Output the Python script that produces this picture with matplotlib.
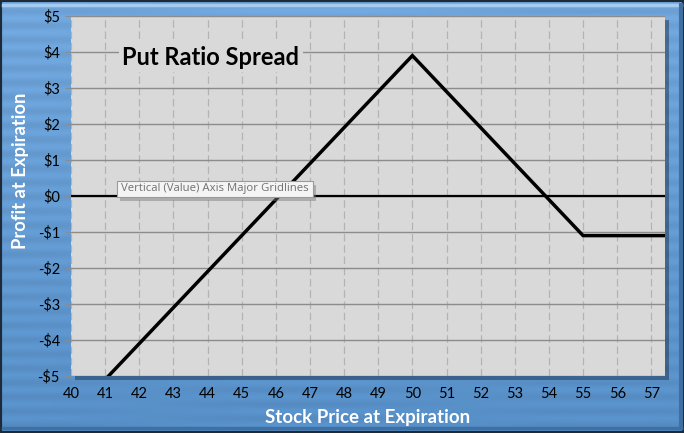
import numpy as np
import matplotlib
matplotlib.use("Agg")
import matplotlib.pyplot as plt
from matplotlib.patches import Rectangle

# payoff of the put ratio spread at expiration
prices = [40, 50, 55, 57.4]
profit = [-6.1, 3.9, -1.1, -1.1]
xticks = list(range(40, 58))
yticks = list(range(-5, 6))
ylabels = [("-$%d" % -v) if v < 0 else "$%d" % v for v in yticks]

plt.rcParams['font.family'] = ['Lato', 'DejaVu Sans']

W, H = 684, 433
fig = plt.figure(figsize=(W / 100, H / 100), dpi=100)

# blue brushed background
bg = fig.add_axes([0, 0, 1, 1], zorder=-10)
bg.set_axis_off()
rows = np.linspace(0, 1, H)[:, None]
cols = np.linspace(0, 1, W)[None, :]
top = np.array([0.44, 0.65, 0.86])
bot = np.array([0.34, 0.56, 0.78])
grad = top[None, None, :] * (1 - rows[..., None]) + bot[None, None, :] * rows[..., None]
grad = grad * (1 + 0.035 * np.sin(rows[..., None] * 190) * np.cos(cols[..., None] * 7))
grad = np.clip(grad + 0 * cols[..., None], 0, 1)
bg.imshow(grad, extent=[0, 1, 0, 1], aspect='auto', origin='upper')
bg.set_xlim(0, 1)
bg.set_ylim(0, 1)
# bevel / frame
bg.plot([0.004, 0.996], [0.989, 0.989], color='#a5ccf0', lw=2.5, transform=bg.transAxes)
bg.plot([0.995, 0.995], [0.012, 0.988], color='#3f70a3', lw=3, transform=bg.transAxes)
bg.plot([0.004, 0.996], [0.011, 0.011], color='#3f70a3', lw=2.5, transform=bg.transAxes)
bg.add_patch(Rectangle((0, 0), 1, 1, fill=False, ec='#1d2a38', lw=3, transform=bg.transAxes))

L, R, B, T = 71 / W, 665 / W, (H - 376) / H, (H - 16) / H
# drop shadow of plot area
bg.add_patch(Rectangle((L + 4 / W, B - 4 / H), R - L, T - B, fc='#1e3550', alpha=0.5,
                       ec='none', transform=bg.transAxes))

ax = fig.add_axes([L, B, R - L, T - B])
ax.set_facecolor('#d9d9d9')
ax.set_xlim(40, 57.4)
ax.set_ylim(-5, 5)
ax.set_xticks(xticks)
ax.set_yticks(yticks)
ax.set_yticklabels(ylabels)
for s in ax.spines.values():
    s.set_visible(False)
ax.tick_params(axis='x', length=0, pad=8, labelsize=10.5, colors='black')
ax.tick_params(axis='y', length=4, color='#8c8c8c', pad=4, labelsize=10.5, labelcolor='black')
ax.xaxis.grid(True, color='#b3b3b3', lw=0.9, ls=(0, (6, 3)))
ax.yaxis.grid(True, color='#8c8c8c', lw=1.0)
ax.set_axisbelow(True)
ax.axhline(0, color='black', lw=1.6, zorder=2)

ax.plot(prices, profit, color='black', lw=2.5, zorder=3, solid_joinstyle='miter', clip_on=True)

ax.text(0.086, 0.886, "Put Ratio Spread", transform=ax.transAxes, fontsize=17, fontweight='bold',
        color='black', ha='left', va='center',
        bbox=dict(boxstyle='square,pad=0.15', fc='#d9d9d9', ec='none'), zorder=4)

ax.set_xlabel("Stock Price at Expiration", fontsize=13.5, fontweight='bold', color='white', labelpad=6)
ax.set_ylabel("Profit at Expiration", fontsize=13.2, fontweight='bold', color='white', labelpad=6)
ax.yaxis.set_label_coords(-0.07, 0.569)

# hover tooltip left on the chart
tx0, ty0 = (117 - 71) / (665 - 71), (376 - 197) / 360
ax.add_patch(Rectangle((tx0 + 0.005, ty0 - 0.01), 196 / 594, 16 / 360, transform=ax.transAxes,
                       fc='#777777', alpha=0.45, ec='none', zorder=5))
ax.add_patch(Rectangle((tx0, ty0), 196 / 594, 16 / 360, transform=ax.transAxes,
                       fc='#f4f4f4', ec='#9a9a9a', lw=0.8, zorder=6))
ax.text(tx0 + 98 / 594, ty0 + 8 / 360, "Vertical (Value) Axis Major Gridlines", transform=ax.transAxes,
        fontsize=8.2, color='#707070', ha='center', va='center', zorder=7,
        family=['Open Sans', 'DejaVu Sans'])

fig.savefig('out.png', dpi=100)
